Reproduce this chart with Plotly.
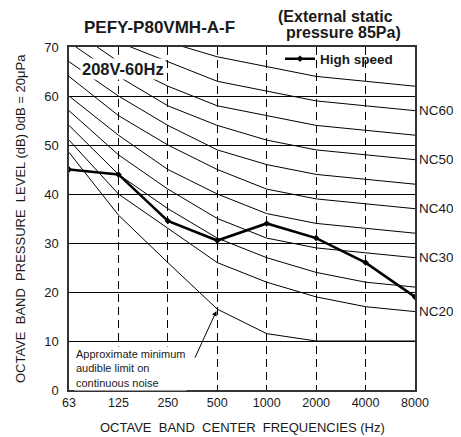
import plotly.graph_objects as go

# ---- data ----
freq_labels = ["63", "125", "250", "500", "1000", "2000", "4000", "8000"]
nc_names = ["NC20", "NC25", "NC30", "NC35", "NC40", "NC45", "NC50", "NC55", "NC60", "NC65"]
nc20 = [51, 40, 33, 26, 22, 19, 17, 16]
nc25 = [54, 44, 37, 31, 27, 24, 22, 21]
nc30 = [57, 48, 41, 35, 31, 29, 28, 27]
nc35 = [60, 52, 45, 40, 36, 34, 33, 32]
nc40 = [64, 56, 50, 45, 41, 39, 38, 37]
nc45 = [67, 60, 54, 49, 46, 44, 43, 42]
nc50 = [71, 64, 58, 54, 51, 49, 48, 47]
nc55 = [74, 67, 62, 58, 56, 54, 53, 52]
nc60 = [77, 71, 67, 63, 61, 59, 58, 57]
nc65 = [80, 75, 71, 68, 66, 64, 63, 62]
nc_curves = [nc20, nc25, nc30, nc35, nc40, nc45, nc50, nc55, nc60, nc65]
labelled_nc = ["NC20", "NC30", "NC40", "NC50", "NC60"]
min_audible = [48.5, 35.7, 26, 16.5, 11.5, 10, 10, 10]
high_speed = [45, 44, 34.5, 30.5, 34, 31, 26, 19]
y_ticks = [0, 10, 20, 30, 40, 50, 60, 70]
arrow_band = "500"

FONT = "Arial, 'Liberation Sans', sans-serif"
TXT = "#1a1a1a"

# the page body has an 8px margin, so the figure starts at (8, 8)
OFF = 8
FIG_W, FIG_H = 461 - OFF, 437 - OFF
PL, PR, PT, PB = 69, 415, 47, 390  # target plot area in window pixels

fig = go.Figure()
for name, vals in zip(nc_names, nc_curves):
    fig.add_trace(go.Scatter(x=freq_labels, y=vals, mode="lines",
                             line=dict(color="black", width=1),
                             showlegend=False, hoverinfo="skip"))
fig.add_trace(go.Scatter(x=freq_labels, y=min_audible, mode="lines",
                         line=dict(color="black", width=1),
                         showlegend=False, hoverinfo="skip"))
fig.add_trace(go.Scatter(x=freq_labels, y=high_speed, mode="lines+markers",
                         name="<b>High speed</b>",
                         line=dict(color="black", width=2.6),
                         marker=dict(color="black", size=5, symbol="diamond")))

last_idx = len(freq_labels) - 1
arrow_idx = freq_labels.index(arrow_band)

annotations = []
for name, vals in zip(nc_names, nc_curves):
    if name in labelled_nc:
        annotations.append(dict(x=last_idx, y=vals[-1], xref="x", yref="y",
                                text=name, showarrow=False, xanchor="left",
                                yanchor="middle", xshift=2,
                                font=dict(family=FONT, size=13.5, color=TXT)))

def px_x(p):
    return (p - PL) / float(PR - PL)

def px_y(p):
    return (PB - p) / float(PB - PT)

annotations += [
    dict(x=px_x(159), y=px_y(27), xref="paper", yref="paper", text="<b>PEFY-P80VMH-A-F</b>",
         showarrow=False, xanchor="center", yanchor="middle",
         font=dict(family=FONT, size=17, color=TXT)),
    dict(x=px_x(276), y=px_y(17), xref="paper", yref="paper", text="<b>(External static</b>",
         showarrow=False, xanchor="left", yanchor="middle",
         font=dict(family=FONT, size=16, color=TXT)),
    dict(x=px_x(284), y=px_y(32), xref="paper", yref="paper", text="<b>pressure 85Pa)</b>",
         showarrow=False, xanchor="left", yanchor="middle",
         font=dict(family=FONT, size=16, color=TXT)),
    dict(x=px_x(80), y=px_y(69), xref="paper", yref="paper", text="<b>208V-60Hz</b>",
         showarrow=False, xanchor="left", yanchor="middle", bgcolor="white",
         borderpad=1,
         font=dict(family=FONT, size=16.5, color=TXT)),
    dict(x=px_x(74), y=px_y(368), xref="paper", yref="paper",
         text="Approximate minimum<br>audible limit on<br>continuous noise",
         showarrow=False, xanchor="left", yanchor="middle", align="left",
         bgcolor="white", borderpad=1,
         font=dict(family=FONT, size=11, color=TXT)),
    dict(x=arrow_idx, y=min_audible[arrow_idx], xref="x", yref="y", text="",
         showarrow=True, ax=-23, ay=50, arrowhead=2, arrowsize=1, arrowwidth=1,
         arrowcolor="black", standoff=2),
    dict(x=px_x(242), y=px_y(427), xref="paper", yref="paper",
         text="OCTAVE\u00a0\u00a0BAND\u00a0\u00a0CENTER\u00a0\u00a0FREQUENCIES (Hz)",
         showarrow=False, xanchor="center", yanchor="middle",
         font=dict(family=FONT, size=13, color=TXT)),
    dict(x=px_x(20), y=px_y(219), xref="paper", yref="paper",
         text="OCTAVE\u00a0\u00a0BAND\u00a0\u00a0PRESSURE\u00a0\u00a0LEVEL (dB) 0dB = 20\u03bcPa",
         showarrow=False, xanchor="center", yanchor="middle", textangle=-90,
         font=dict(family=FONT, size=13, color=TXT)),
]

fig.update_layout(
    width=FIG_W, height=FIG_H,
    margin=dict(l=PL - OFF, r=OFF + FIG_W - PR, t=PT - OFF, b=OFF + FIG_H - PB),
    paper_bgcolor="white", plot_bgcolor="white",
    font=dict(family=FONT, color=TXT),
    annotations=annotations,
    legend=dict(x=px_x(280), y=px_y(59), xanchor="left", yanchor="middle",
                bgcolor="rgba(0,0,0,0)", font=dict(family=FONT, size=13.5, color=TXT),
                itemwidth=30),
    xaxis=dict(type="category", range=[0, 7], showline=True, linecolor="#333",
               linewidth=1.5, mirror=True, showgrid=True, gridcolor="black",
               gridwidth=1, griddash="8px,5px", ticks="", zeroline=False,
               tickfont=dict(family=FONT, size=12.5, color=TXT)),
    yaxis=dict(range=[0, 70], tickvals=y_ticks, showline=True, linecolor="#333",
               linewidth=1.5, mirror=True, showgrid=True, gridcolor="black",
               gridwidth=1.2, ticks="", zeroline=False, ticklabelstandoff=6,
               tickfont=dict(family=FONT, size=13, color=TXT)),
)

fig.write_html("out.html")
